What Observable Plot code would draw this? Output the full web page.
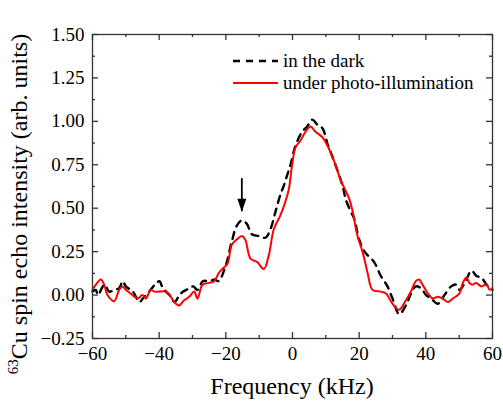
<!DOCTYPE html>
<html><head><meta charset="utf-8">
<script src="https://cdn.jsdelivr.net/npm/d3@7"></script>
<script src="https://cdn.jsdelivr.net/npm/@observablehq/plot@0.6"></script>
<style>
body{margin:0;background:#fff;}
#wrap{position:relative;width:503px;height:401px;}
#wrap svg{display:block;}
#wrap svg text{font-family:"Liberation Serif","DejaVu Serif",serif !important;}
#legend{position:absolute;left:0;top:0;}
</style></head><body><div id="wrap"></div>
<script>
// ---- data (frequency in kHz, intensity in arb. units) ----
const darkFreq = [-60,-59,-58.4,-56.4,-55,-53.5,-52,-50.9,-50,-47.9,-45.9,-44.9,-43,-40.8,-39.9,-38.9,-36.9,-35.4,-33.9,-32.8,-30.8,-29.8,-28.5,-26.9,-24.9,-23.4,-22.2,-20.2,-18.2,-16.7,-15.2,-13.7,-12.2,-10.1,-8.1,-6.6,-5.1,-3.6,-2.6,-1.6,-0.6,0.9,2.9,4.4,5.9,7.5,9,10.5,12.5,15,16,17.5,18.5,20,21.6,23,24.5,26.5,28.5,30,32,34,35.6,37,38.5,40.1,41.6,43.6,45.6,47.6,49.1,50.1,51.7,53.7,55.2,56.7,58.2,60];
const darkVal = [0.02,0.03,0.00,0.06,0.02,0.03,0.04,0.08,0.05,0.02,-0.04,-0.02,0.02,0.07,0.08,0.04,0.00,-0.04,0.00,0.02,0.04,0.05,0.03,0.08,0.08,0.09,0.08,0.16,0.31,0.40,0.43,0.41,0.35,0.34,0.33,0.38,0.48,0.58,0.63,0.69,0.75,0.86,0.94,0.97,1.01,0.98,0.96,0.87,0.77,0.63,0.55,0.48,0.44,0.32,0.25,0.22,0.19,0.11,0.05,-0.02,-0.11,-0.06,0.01,0.05,0.04,0.00,-0.02,-0.05,0.00,0.05,0.06,0.03,0.07,0.14,0.11,0.10,0.06,0.03];
const lightFreq = [-60,-59,-57.5,-56.5,-55.5,-53.5,-52,-51,-50,-48,-46.5,-45,-44,-42.5,-41.5,-38,-36.5,-35,-34,-32.5,-31,-29.5,-28.5,-27,-25,-23.5,-22,-20.5,-19.5,-18.2,-16.7,-15.2,-14.2,-12.6,-10.6,-8.6,-7.1,-5.6,-3.6,-2.1,-1.1,-0.1,0.9,2.4,3.9,5.4,6.9,8.9,10.5,12.5,14.5,17,18,19.5,21,22.5,24,26.5,28,30,32,34,35.5,37,38,39,40.6,42.1,43.6,45.1,46.6,48.1,50.1,51.1,52.1,53.1,54,55.1,56.6,58.2,59.2,60];
const lightVal = [0.03,0.06,0.09,0.06,0.00,-0.035,0.03,0.05,0.03,0.00,-0.02,0.00,-0.02,0.03,0.02,0.02,-0.01,-0.05,-0.06,-0.03,-0.01,0.02,-0.02,0.06,0.07,0.08,0.13,0.16,0.18,0.29,0.32,0.34,0.32,0.21,0.19,0.15,0.23,0.38,0.46,0.54,0.61,0.75,0.85,0.89,0.94,0.97,0.94,0.91,0.86,0.77,0.66,0.555,0.485,0.34,0.25,0.13,0.03,0.02,0.01,-0.05,-0.085,-0.03,0.02,0.08,0.09,0.06,0.01,-0.02,-0.01,-0.02,-0.04,-0.02,0.01,0.07,0.10,0.07,0.06,0.07,0.05,0.06,0.03,0.04];
const seriesNames = ["in the dark", "under photo-illumination"];
const xMajor = [-60,-40,-20,0,20,40,60];
const xMinor = [-50,-30,-10,10,30,50];
const yMajor = [-0.25,0,0.25,0.5,0.75,1,1.25,1.5];
const yMinor = [-0.125,0.125,0.375,0.625,0.875,1.125,1.375];
const arrowMarker = [{f:-15.2, from:0.67, to:0.48}];
const xLabel = "Frequency (kHz)";
const yLabelSup = "63";
const yLabelMain = "Cu spin echo intensity (arb. units)";

// ---- layout ----
const W = 503, H = 401, mL = 92, mR = 11, mT = 34, mB = 63;
const innerW = W - mL - mR, innerH = H - mT - mB;
const frameColor = "#333";
const FONT = '"Liberation Serif", "DejaVu Serif", serif';
const minus = s => String(s).replace("-", "\u2212");

const dark = darkFreq.map((f, i) => ({f, v: darkVal[i]}));
const light = lightFreq.map((f, i) => ({f, v: lightVal[i]}));

const arrowHead = {draw(ctx) { ctx.moveTo(0, 0); ctx.lineTo(-4.5, -13); ctx.lineTo(4.5, -13); ctx.closePath(); }};

const plot = Plot.plot({
  width: W, height: H,
  marginLeft: mL, marginRight: mR, marginTop: mT, marginBottom: mB,
  style: {fontFamily: FONT, fontSize: "19px", color: "#000", background: "#fff"},
  x: {domain: [-60, 60]},
  y: {domain: [-0.25, 1.5]},
  marks: [
    Plot.axisX(xMajor, {tickSize: 0, tickPadding: 8, fontSize: 19, tickFormat: d => minus(d), label: null}),
    Plot.axisY(yMajor, {tickSize: 0, tickPadding: 8, fontSize: 19, tickFormat: d => minus(d.toFixed(2)), label: null}),
    // inward ticks on all four sides
    Plot.tickX(xMajor, {x: d => d, insetTop: innerH - 6, stroke: frameColor, strokeWidth: 1.3}),
    Plot.tickX(xMinor, {x: d => d, insetTop: innerH - 3, stroke: frameColor, strokeWidth: 1.3}),
    Plot.tickX(xMajor, {x: d => d, insetBottom: innerH - 6, stroke: frameColor, strokeWidth: 1.3}),
    Plot.tickX(xMinor, {x: d => d, insetBottom: innerH - 3, stroke: frameColor, strokeWidth: 1.3}),
    Plot.tickY(yMajor, {y: d => d, insetRight: innerW - 6, stroke: frameColor, strokeWidth: 1.3}),
    Plot.tickY(yMinor, {y: d => d, insetRight: innerW - 3, stroke: frameColor, strokeWidth: 1.3}),
    Plot.tickY(yMajor, {y: d => d, insetLeft: innerW - 6, stroke: frameColor, strokeWidth: 1.3}),
    Plot.tickY(yMinor, {y: d => d, insetLeft: innerW - 3, stroke: frameColor, strokeWidth: 1.3}),
    Plot.line(dark, {x: "f", y: "v", stroke: "#000", strokeWidth: 2.4, strokeDasharray: "7,6", curve: "catmull-rom"}),
    Plot.line(light, {x: "f", y: "v", stroke: "#ff0000", strokeWidth: 2, curve: "catmull-rom"}),
    Plot.ruleX(arrowMarker, {x: "f", y1: "from", y2: "to", stroke: "#000", strokeWidth: 1.8}),
    Plot.dot(arrowMarker, {x: "f", y: "to", symbol: arrowHead, fill: "#000", stroke: "none"}),
    Plot.frame({stroke: frameColor, strokeWidth: 1.3})
  ]
});

const wrap = document.getElementById("wrap");
wrap.appendChild(plot);

const svg = d3.select(plot);
// x-axis title
svg.append("text")
  .attr("x", mL + innerW / 2).attr("y", 394)
  .attr("text-anchor", "middle")
  .style("font-family", FONT)
  .attr("font-size", 24).attr("fill", "#000")
  .text(xLabel);
// y-axis title with superscript
const yt = svg.append("text")
  .attr("transform", `translate(27, ${mT + innerH / 2 + 18}) rotate(-90)`)
  .attr("text-anchor", "middle")
  .style("font-family", FONT)
  .attr("font-size", 24).attr("fill", "#000");
yt.append("tspan").attr("font-size", 15).attr("dy", -9).text(yLabelSup);
yt.append("tspan").attr("dy", 9).text(yLabelMain);

// legend inside the frame
const leg = d3.select(wrap).append("svg").attr("id", "legend").attr("width", W).attr("height", H);
const legY = [61, 83];
const legStyles = [{stroke: "#000", dash: "7,6", w: 2.4}, {stroke: "#ff0000", dash: null, w: 2}];
seriesNames.forEach((name, i) => {
  leg.append("line")
    .attr("x1", 233).attr("x2", 278).attr("y1", legY[i]).attr("y2", legY[i])
    .attr("stroke", legStyles[i].stroke).attr("stroke-width", legStyles[i].w)
    .attr("stroke-dasharray", legStyles[i].dash);
  leg.append("text")
    .attr("x", 283).attr("y", legY[i] + 6)
    .style("font-family", FONT)
    .attr("font-size", 19).attr("fill", "#000")
    .text(name);
});
</script></body></html>
